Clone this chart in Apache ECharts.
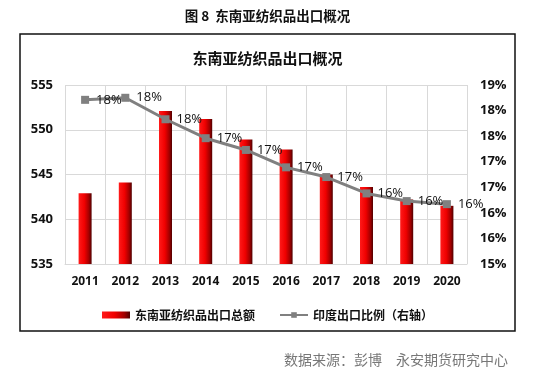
<!DOCTYPE html>
<html><head><meta charset="utf-8">
<script src="https://cdn.jsdelivr.net/npm/echarts@6/dist/echarts.min.js"></script>
<style>html,body{margin:0;padding:0;background:#fff}#c{width:535px;height:374px}</style>
</head><body><div id="c"></div>
<script>
const categories = ['2011','2012','2013','2014','2015','2016','2017','2018','2019','2020'];
const exportTotal = [542.9, 544.1, 552.1, 551.2, 548.9, 547.8, 545.0, 543.6, 542.2, 541.5];
const indiaShare = [18.21, 18.25, 17.83, 17.46, 17.23, 16.89, 16.70, 16.38, 16.23, 16.17];
const leftTicks = {min: 535, max: 555, interval: 5};
const rightTicks = {min: 15, max: 18.5, interval: 0.5};

const numFont = '"Open Sans", "Noto Sans CJK SC", sans-serif';
const cjk = '"Noto Sans CJK SC", sans-serif';
const chart = echarts.init(document.getElementById('c'), null, {renderer: 'canvas'});
const barColor = new echarts.graphic.LinearGradient(0, 0, 1, 0, [
  {offset: 0, color: '#ff1a1a'},
  {offset: 0.45, color: '#f00000'},
  {offset: 0.8, color: '#a00000'},
  {offset: 1, color: '#500000'}
]);
chart.setOption({
  animation: false,
  title: [
    {text: '图 8  东南亚纺织品出口概况', left: 'center', top: 4,
     textStyle: {fontFamily: cjk, fontSize: 13.5, fontWeight: 'bold', color: '#111'}},
    {text: '东南亚纺织品出口概况', left: 'center', top: 46,
     textStyle: {fontFamily: cjk, fontSize: 15, fontWeight: 'bold', color: '#111'}},
    {text: '数据来源：彭博　永安期货研究中心', right: 22, top: 348,
     textStyle: {fontFamily: cjk, fontSize: 14, fontWeight: 'normal', color: '#777'}}
  ],
  graphic: [{type: 'rect', shape: {x: 20, y: 34, width: 495, height: 297},
    style: {fill: 'none', stroke: '#111', lineWidth: 1.5}, z: -1}],
  grid: {left: 65, right: 68, top: 85, bottom: 110},
  legend: {
    left: 'center', top: 304, itemGap: 24, itemWidth: 28, itemHeight: 7,
    textStyle: {fontFamily: cjk, fontSize: 12, fontWeight: 'bold', color: '#111'},
    data: [{name: '东南亚纺织品出口总额', icon: 'rect'}, {name: '印度出口比例（右轴）'}]
  },
  xAxis: {
    type: 'category', data: categories, boundaryGap: true,
    axisLine: {show: true, lineStyle: {color: '#d9d9d9', width: 1}},
    axisTick: {show: false},
    splitLine: {show: true, lineStyle: {color: '#d9d9d9', width: 1}},
    axisLabel: {fontFamily: numFont, fontSize: 12, fontWeight: 'bold', color: '#111', margin: 12}
  },
  yAxis: [
    {type: 'value', min: leftTicks.min, max: leftTicks.max, interval: leftTicks.interval,
     axisLine: {show: false}, axisTick: {show: false},
     splitLine: {lineStyle: {color: '#d9d9d9', width: 1}},
     axisLabel: {fontFamily: numFont, fontSize: 13, fontWeight: 'bold', color: '#111', margin: 12}},
    {type: 'value', min: rightTicks.min, max: rightTicks.max, interval: rightTicks.interval,
     axisLine: {show: false}, axisTick: {show: false}, splitLine: {show: false},
     axisLabel: {fontFamily: numFont, fontSize: 13, fontWeight: 'bold', color: '#111', margin: 13,
       formatter: v => Math.round(v) + '%'}}
  ],
  series: [
    {name: '东南亚纺织品出口总额', type: 'bar', data: exportTotal, barWidth: 13,
     itemStyle: {color: barColor}, z: 2},
    {name: '印度出口比例（右轴）', type: 'line', yAxisIndex: 1, data: indiaShare,
     symbol: 'rect', symbolSize: 8, lineStyle: {color: '#808080', width: 3},
     itemStyle: {color: '#808080'}, z: 3,
     label: {show: true, position: 'right', distance: 7, fontFamily: numFont, fontSize: 13,
       color: '#111', formatter: p => Math.round(p.value) + '%'}}
  ]
});
</script></body></html>
